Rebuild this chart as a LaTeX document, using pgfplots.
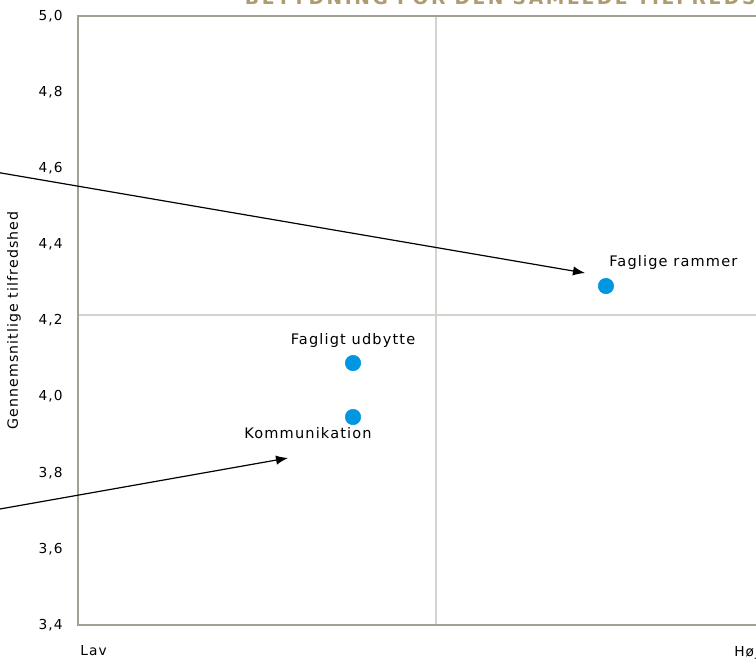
\documentclass[border=0pt]{standalone}
\usepackage{fontspec}
\setmainfont{DejaVu Sans}[LetterSpace=8]
\newfontfamily\titlefont{DejaVu Sans}[LetterSpace=14]
\usepackage{pgfplots}
\pgfplotsset{compat=1.18}
\usetikzlibrary{arrows.meta}
\definecolor{pointblue}{RGB}{0,150,225}
\definecolor{framegray}{RGB}{160,160,150}
\definecolor{gridgray}{RGB}{212,212,206}
\definecolor{titletan}{RGB}{172,156,112}

\begin{document}
\begin{tikzpicture}
% 1 px of the reference = 0.75pt
\useasboundingbox (0,0) rectangle (567pt,-496.5pt);
\clip (0,0) rectangle (567pt,-496.5pt);

% cropped title
\node[anchor=base west, inner sep=0, text=titletan,
      font=\titlefont\bfseries\fontsize{14}{16}\selectfont]
  at (183.5pt,-3.4pt) {BETYDNING FOR DEN SAMLEDE TILFREDSHED};

\begin{axis}[
  at={(58.5pt,-468.75pt)}, anchor=south west,
  scale only axis, width=537pt, height=456.75pt,
  xmin=0, xmax=1, ymin=3.4, ymax=5.0,
  clip=false,
  axis line style={framegray, line width=1.6pt},
  major tick length=0pt,
  ytick={3.4,3.6,3.8,4.0,4.2,4.4,4.6,4.8,5.0},
  yticklabel style={font=\fontsize{10.3}{12}\selectfont, xshift=-8pt},
  /pgf/number format/.cd, fixed, fixed zerofill, precision=1, use comma,
    assume math mode=true,
  /pgfplots/.cd,
  xtick={0,0.9134}, xticklabels={Lav,Høj},
  xticklabel style={anchor=north west, inner sep=0pt, yshift=-15.5pt,
                    xshift=1.5pt, font=\fontsize{10.3}{12}\selectfont},
  ylabel={Gennemsnitlige tilfredshed},
  ylabel style={at={(axis description cs:-0.0894,0.5)}, anchor=center,
                font=\fontsize{10.6}{12}\selectfont},
]
  % reference lines
  \draw[gridgray, line width=1.5pt] (axis cs:0.5,3.4) -- (axis cs:0.5,5.0);
  \draw[gridgray, line width=1.5pt] (axis cs:0,4.2145) -- (axis cs:1,4.2145);
  \draw[framegray, line width=1.6pt] (axis cs:0,3.4) -- (axis cs:1,3.4);
  \draw[framegray, line width=1.6pt] (axis cs:0,5.0) -- (axis cs:1,5.0);
  \draw[framegray, line width=1.6pt] (axis cs:0,3.4) -- (axis cs:0,5.0);

  % callout arrows
  \draw[black, line width=0.9pt, -{Latex[length=9pt,width=7pt]}]
    (axis cs:-0.2,4.6174) -- (axis cs:0.7081,4.3248);
  \draw[black, line width=0.9pt, -{Latex[length=9pt,width=7pt]}]
    (axis cs:-0.2,3.6745) -- (axis cs:0.2933,3.8388);

  % punkter
  \addplot[only marks, mark=*, mark size=5.8pt, color=pointblue]
    coordinates {(0.7374,4.2906) (0.3841,4.0883) (0.3841,3.9465)};

  \node[anchor=west, inner sep=0, xshift=2.25pt, yshift=17.6pt,
        font=\fontsize{10.9}{12}\selectfont]
    at (axis cs:0.7374,4.2906) {Faglige rammer};
  \node[anchor=center, inner sep=0, yshift=17pt,
        font=\fontsize{10.9}{12}\selectfont]
    at (axis cs:0.3841,4.0883) {Fagligt udbytte};
  \node[anchor=center, inner sep=0, xshift=-33.75pt, yshift=-12pt,
        font=\fontsize{10.9}{12}\selectfont]
    at (axis cs:0.3841,3.9465) {Kommunikation};
\end{axis}
\end{tikzpicture}
\end{document}
